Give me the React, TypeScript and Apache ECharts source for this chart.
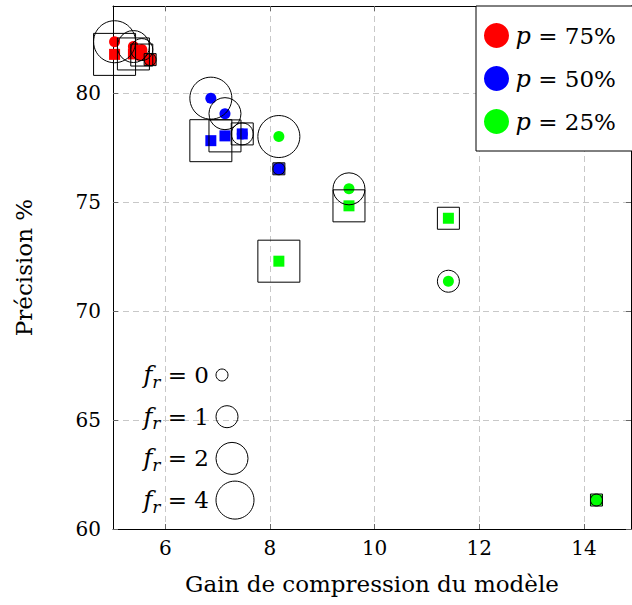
import React, { useEffect, useRef } from 'react';
import * as echarts from 'echarts';

// f_r level for each point (same order in every array below)
const frValues = [4, 2, 1, 0];

// p = 75%
const redCircleX = [5.03, 5.39, 5.55, 5.71];
const redCircleY = [82.36, 82.14, 82.0, 81.54];
const redSquareX = [5.03, 5.39, 5.55, 5.71];
const redSquareY = [81.78, 81.8, 81.75, 81.54];

// p = 50%
const blueCircleX = [6.87, 7.14, 7.47, 8.17];
const blueCircleY = [79.77, 79.06, 78.13, 76.53];
const blueSquareX = [6.87, 7.14, 7.47, 8.17];
const blueSquareY = [77.82, 78.04, 78.13, 76.53];

// p = 25%
const greenCircleX = [8.17, 9.51, 11.41, 14.24];
const greenCircleY = [78.01, 75.61, 71.37, 61.33];
const greenSquareX = [8.17, 9.51, 11.41, 14.24];
const greenSquareY = [72.29, 74.83, 74.26, 61.33];

const xTicks = [6, 8, 10, 12, 14];
const yTicks = [60, 65, 70, 75, 80];
const legendFr = [0, 1, 2, 4];

const FONT = '"DejaVu Serif", serif';

const outlineSize: Record<number, number> = { 0: 12, 1: 22, 2: 32, 4: 42 };
const legendCircleSize: Record<number, number> = { 0: 12, 1: 22, 2: 32, 4: 38 };

const groups = [
  { name: 'p = 75%', pct: '75', color: '#ff0000', cx: redCircleX, cy: redCircleY, sx: redSquareX, sy: redSquareY },
  { name: 'p = 50%', pct: '50', color: '#0000ff', cx: blueCircleX, cy: blueCircleY, sx: blueSquareX, sy: blueSquareY },
  { name: 'p = 25%', pct: '25', color: '#00ff00', cx: greenCircleX, cy: greenCircleY, sx: greenSquareX, sy: greenSquareY },
];

export default function App() {
  const ref = useRef<HTMLDivElement>(null);
  useEffect(() => {
    if (!ref.current) return;
    const chart = echarts.init(ref.current, undefined, { renderer: 'svg' });

    const series: any[] = [];
    const allCircles: any[] = [];
    const allSquares: any[] = [];
    groups.forEach((g) => {
      const sq = g.sx.map((x, i) => [x, g.sy[i], frValues[i]]);
      const ci = g.cx.map((x, i) => [x, g.cy[i], frValues[i]]);
      allSquares.push(...sq);
      allCircles.push(...ci);
      series.push({
        type: 'scatter', name: g.name, symbol: 'circle', symbolSize: 11, clip: false,
        itemStyle: { color: g.color, opacity: 1 }, data: ci, z: 2,
      });
      series.push({
        type: 'scatter', name: g.name, symbol: 'rect', symbolSize: 11, clip: false,
        itemStyle: { color: g.color, opacity: 1 }, data: sq, z: 2,
      });
    });
    series.push({
      type: 'scatter', name: 'outlineC', symbol: 'circle', clip: false, silent: true,
      symbolSize: (v: number[]) => outlineSize[v[2]],
      itemStyle: { color: 'rgba(0,0,0,0)', borderColor: '#000', borderWidth: 1, opacity: 1 },
      data: allCircles, z: 3,
    });
    series.push({
      type: 'scatter', name: 'outlineS', symbol: 'rect', clip: false, silent: true,
      symbolSize: (v: number[]) => outlineSize[v[2]],
      itemStyle: { color: 'rgba(0,0,0,0)', borderColor: '#000', borderWidth: 1, opacity: 1 },
      data: allSquares, z: 3,
    });

    const legendY0 = 375;
    const legendStep = 41.7;
    const frElements: any[] = [];
    legendFr.forEach((f, i) => {
      const cy = legendY0 + i * legendStep;
      const r = legendCircleSize[f] / 2;
      frElements.push({
        type: 'text', x: 209, y: cy,
        style: {
          text: `{f|f}{r|r}{e| = ${f}}`,
          align: 'right', verticalAlign: 'middle', fill: '#000',
          fontFamily: FONT, fontSize: 23,
          rich: {
            f: { fontFamily: FONT, fontStyle: 'italic', fontSize: 24, lineHeight: 30, fill: '#000' },
            r: { fontFamily: FONT, fontStyle: 'italic', fontSize: 17, lineHeight: 16, verticalAlign: 'bottom', fill: '#000' },
            e: { fontFamily: FONT, fontSize: 23, lineHeight: 30, fill: '#000' },
          },
        },
        z: 10,
      });
      frElements.push({
        type: 'circle', shape: { cx: 216 + r, cy, r },
        style: { fill: 'none', stroke: '#000', lineWidth: 1 }, z: 10,
      });
    });

    const option: any = {
      animation: false,
      backgroundColor: '#fff',
      textStyle: { fontFamily: FONT },
      grid: { left: 113, right: 1, top: 6, bottom: 76, containLabel: false },
      xAxis: [
        {
          type: 'value', min: 5, max: 14.9, position: 'bottom',
          name: 'Gain de compression du modèle', nameLocation: 'middle', nameGap: 43,
          nameTextStyle: { fontFamily: FONT, fontSize: 23, color: '#000' },
          axisLine: { show: true, onZero: false, lineStyle: { color: '#000', width: 1 } },
          axisTick: { show: true, inside: true, length: 5, customValues: xTicks, lineStyle: { color: '#666' } },
          axisLabel: { customValues: xTicks, fontFamily: FONT, fontSize: 20, color: '#000', margin: 9 },
          splitLine: { show: true, lineStyle: { color: '#c8c8c8', type: [6, 4], width: 1 } },
        },
        {
          type: 'value', min: 5, max: 14.9, position: 'top',
          axisLine: { show: true, onZero: false, lineStyle: { color: '#000', width: 1 } },
          axisTick: { show: true, inside: true, length: 5, customValues: xTicks, lineStyle: { color: '#666' } },
          axisLabel: { show: false }, splitLine: { show: false },
        },
      ],
      yAxis: [
        {
          type: 'value', min: 60, max: 84, position: 'left',
          name: 'Précision %', nameLocation: 'middle', nameGap: 78,
          nameTextStyle: { fontFamily: FONT, fontSize: 23, color: '#000' },
          axisLine: { show: true, onZero: false, lineStyle: { color: '#000', width: 1 } },
          axisTick: { show: true, inside: true, length: 5, customValues: yTicks, lineStyle: { color: '#666' } },
          axisLabel: { customValues: yTicks, fontFamily: FONT, fontSize: 20, color: '#000', margin: 12 },
          splitLine: { show: true, lineStyle: { color: '#c8c8c8', type: [6, 4], width: 1 } },
        },
        {
          type: 'value', min: 60, max: 84, position: 'right',
          axisLine: { show: true, onZero: false, lineStyle: { color: '#000', width: 1 } },
          axisTick: { show: true, inside: true, length: 5, customValues: yTicks, lineStyle: { color: '#666' } },
          axisLabel: { show: false }, splitLine: { show: false },
        },
      ],
      legend: {
        data: groups.map((g) => ({ name: g.name, icon: 'circle' })),
        orient: 'vertical', left: 476, top: 6,
        itemWidth: 28, itemHeight: 25, itemGap: 18,
        padding: [17, 17, 17, 8],
        borderColor: '#000', borderWidth: 1, backgroundColor: '#fff',
        selectedMode: false,
        formatter: (name: string) => {
          const g = groups.find((gg) => gg.name === name)!;
          return `{p|p}{t| = ${g.pct}%}`;
        },
        textStyle: {
          fontFamily: FONT, fontSize: 23, color: '#000',
          rich: {
            p: { fontFamily: FONT, fontStyle: 'italic', fontSize: 24, color: '#000' },
            t: { fontFamily: FONT, fontSize: 23, color: '#000' },
          },
        },
      },
      graphic: frElements,
      series,
    };
    chart.setOption(option);
    return () => chart.dispose();
  }, []);
  return (
    <div
      ref={ref}
      style={{ position: 'fixed', left: 0, top: 0, width: 632, height: 605 }}
    />
  );
}
